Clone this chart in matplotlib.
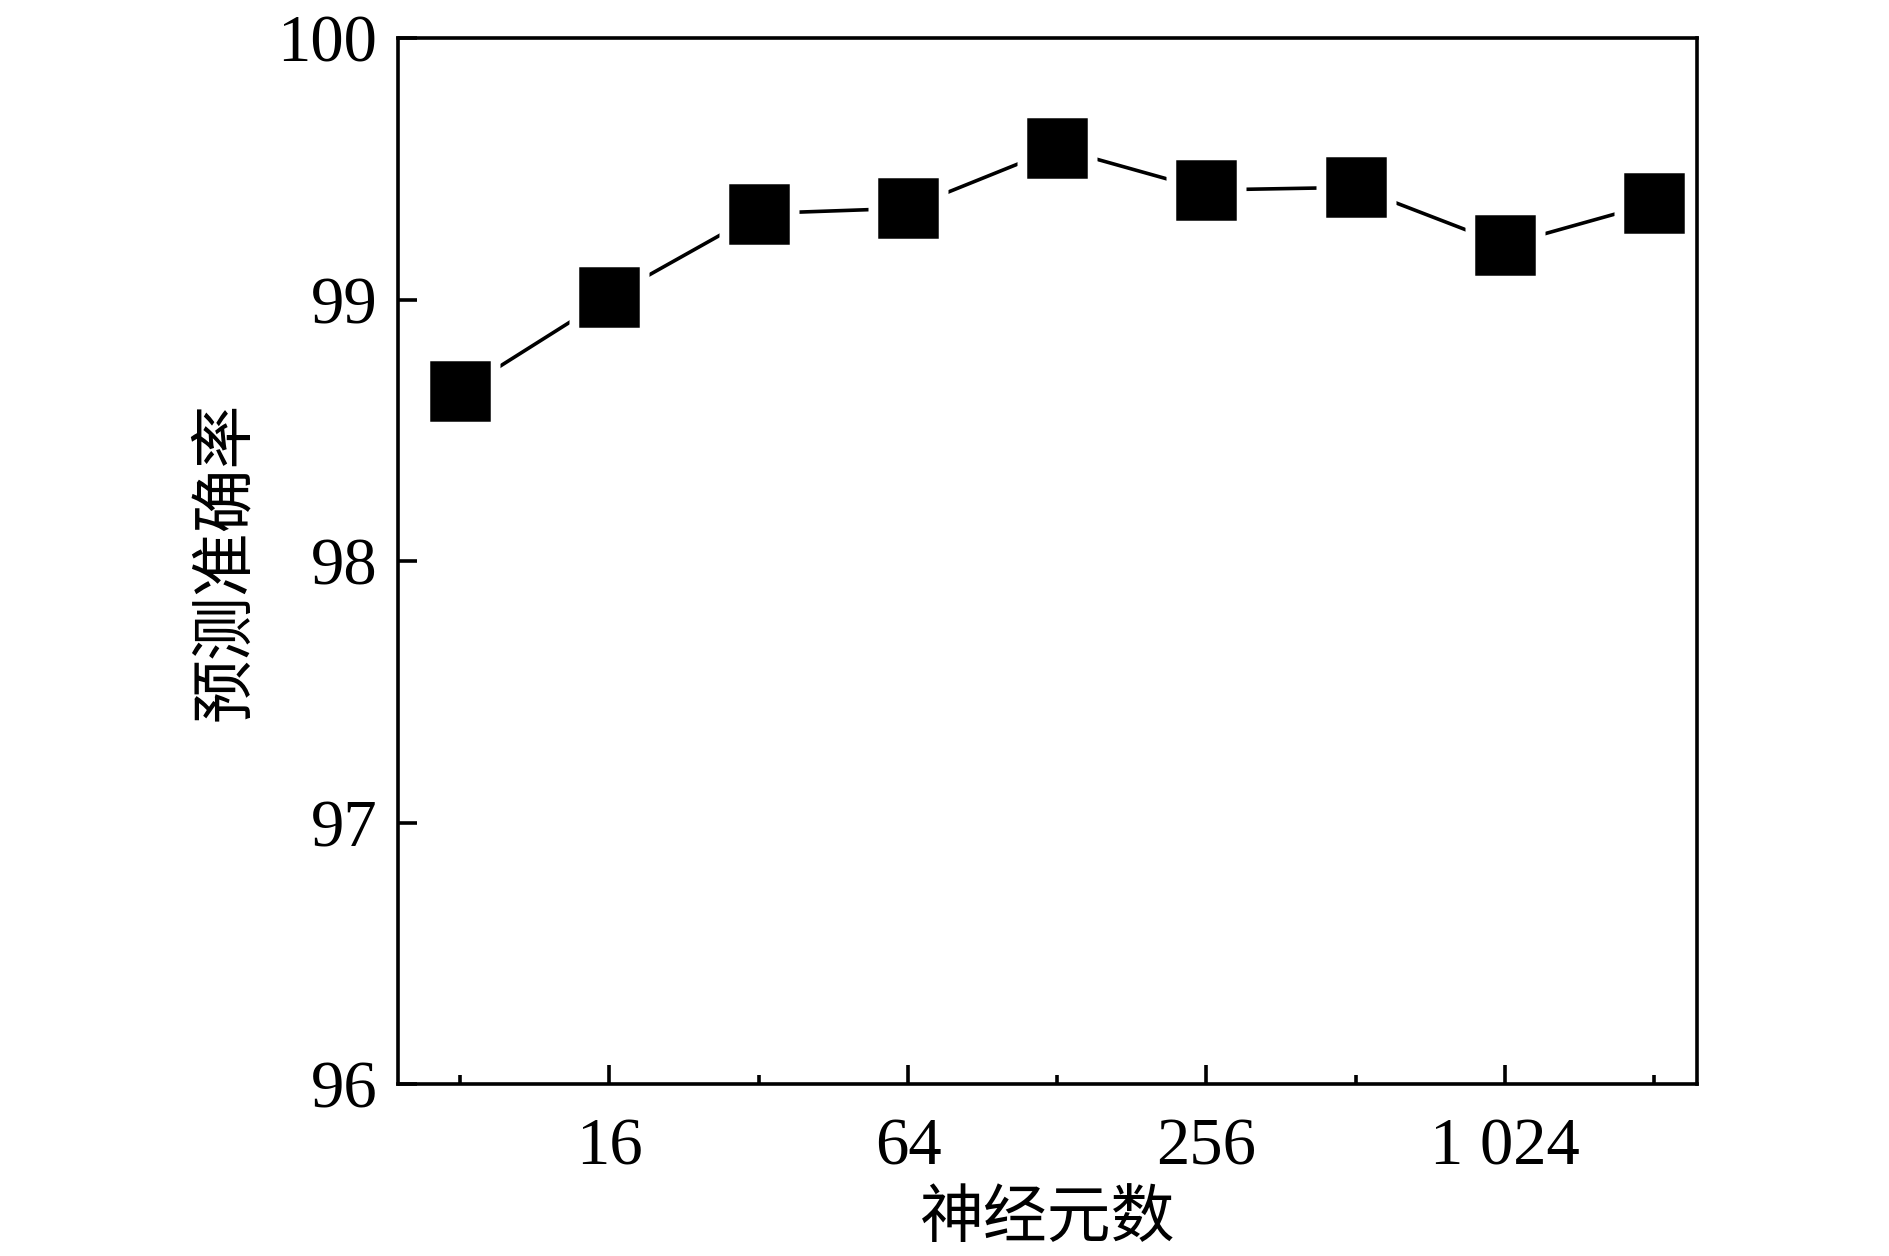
import matplotlib
matplotlib.use('Agg')
import matplotlib.pyplot as plt
from matplotlib.ticker import FixedLocator, FixedFormatter, NullFormatter, NullLocator

neurons = [8, 16, 32, 64, 128, 256, 512, 1024, 2048]
accuracy = [98.65, 99.01, 99.33, 99.35, 99.58, 99.42, 99.43, 99.21, 99.37]
major_ticks = [16, 64, 256, 1024]
major_labels = ['16', '64', '256', '1 024']
minor_ticks = [8, 32, 128, 512, 2048]
y_ticks = [96, 97, 98, 99, 100]
y_labels = ['96', '97', '98', '99', '100']
xlabel = '神经元数'
ylabel = '预测准确率'

fig = plt.figure(figsize=(18.9, 12.56), dpi=100)
ax = fig.add_axes([0.2107, 0.1367, 0.6873, 0.8328])
ax.set_xscale('log', base=2)

ax.plot(neurons, accuracy, color='black', lw=2.6, solid_capstyle='round', zorder=2)
ax.plot(neurons, accuracy, ls='none', marker='s', ms=57.6, mfc='white', mec='none',
        zorder=3, clip_on=False)
ax.plot(neurons, accuracy, ls='none', marker='s', ms=41.5, mfc='black', mec='black',
        mew=1.8, zorder=4, clip_on=False)

ax.set_xlim(6, 2500)
ax.set_ylim(96, 100)

ax.xaxis.set_major_locator(FixedLocator(major_ticks))
ax.xaxis.set_major_formatter(FixedFormatter(major_labels))
ax.xaxis.set_minor_locator(FixedLocator(minor_ticks))
ax.xaxis.set_minor_formatter(NullFormatter())
ax.yaxis.set_major_locator(FixedLocator(y_ticks))
ax.yaxis.set_major_formatter(FixedFormatter(y_labels))
ax.yaxis.set_minor_locator(NullLocator())

for sp in ax.spines.values():
    sp.set_linewidth(2.6)
    sp.set_color('black')

ax.tick_params(axis='both', which='major', direction='in', length=14, width=2.6,
               top=False, right=False, colors='black')
ax.tick_params(axis='x', which='minor', direction='in', length=6.5, width=2.6,
               top=False)
ax.tick_params(axis='x', which='major', pad=24)
ax.tick_params(axis='y', which='major', pad=15)

for lab in ax.get_xticklabels() + ax.get_yticklabels():
    lab.set_fontfamily(['Liberation Serif', 'DejaVu Serif'])
    lab.set_fontsize(48)

ax.set_xlabel(xlabel, fontsize=46, family=['Noto Sans CJK SC', 'DejaVu Sans'], labelpad=5)
ax.set_ylabel(ylabel, fontsize=46, family=['Noto Sans CJK SC', 'DejaVu Sans'], labelpad=14)

fig.savefig('out.png', dpi=100, facecolor='white')
